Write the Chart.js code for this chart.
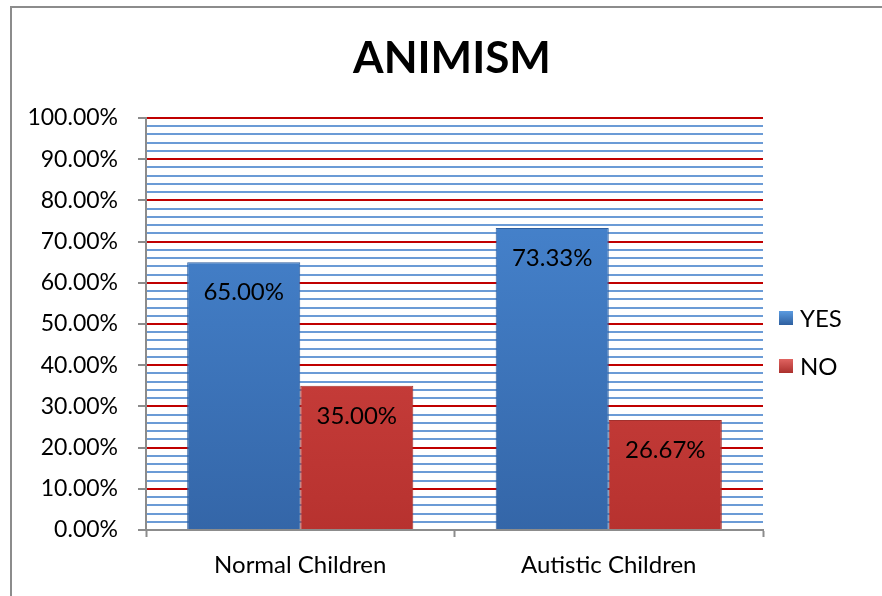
<!DOCTYPE html>
<html>
<head>
<meta charset="utf-8">
<script src="https://cdn.jsdelivr.net/npm/chart.js@4"></script>
<style>
    body { margin: 0; background: #fff; }
    #wrap { width: 882px; height: 596px; position: relative; }
</style>
</head>
<body>
<div id="wrap"><canvas id="chart" width="882" height="596"></canvas></div>
<script>
const categories = ['Normal Children', 'Autistic Children'];
const seriesNames = ['YES', 'NO'];
const yesValues = [65.00, 73.33];
const noValues = [35.00, 26.67];
const chartTitle = 'ANIMISM';

const FONT = 'Lato, "Noto Sans", sans-serif';

function barGradient(ctx, top, bottom) {
    const area = ctx.chart.chartArea;
    if (!area) return top;
    const g = ctx.chart.ctx.createLinearGradient(0, area.top, 0, area.bottom);
    g.addColorStop(0, top);
    g.addColorStop(1, bottom);
    return g;
}

// frame, title, legend and value labels
const decorations = {
    id: 'decorations',
    beforeDraw(chart) {
        const c = chart.ctx;
        c.save();
        c.strokeStyle = '#8c8c8c';
        c.lineWidth = 2;
        c.beginPath();
        c.moveTo(11, 600);
        c.lineTo(11, 7);
        c.lineTo(882, 7);
        c.stroke();
        c.restore();
    },
    afterDatasetsDraw(chart) {
        const c = chart.ctx;
        c.save();
        c.fillStyle = '#000';
        c.textAlign = 'center';
        c.textBaseline = 'middle';
        c.font = '24px ' + FONT;
        chart.data.datasets.forEach((ds, i) => {
            chart.getDatasetMeta(i).data.forEach((bar, j) => {
                c.fillText(ds.data[j].toFixed(2) + '%', bar.x, bar.y + 30);
            });
        });
        c.restore();
    },
    afterDraw(chart) {
        const c = chart.ctx;
        c.save();
        c.fillStyle = '#000';
        c.textAlign = 'center';
        c.textBaseline = 'middle';
        c.font = 'bold 44px ' + FONT;
        c.fillText(chartTitle, 452, 59);

        c.textAlign = 'left';
        c.font = '24px ' + FONT;
        const ys = [318, 366];
        chart.data.datasets.forEach((ds, i) => {
            const y = ys[i];
            const g = c.createLinearGradient(0, y - 7, 0, y + 7);
            g.addColorStop(0, ds.legendTop);
            g.addColorStop(1, ds.legendBottom);
            c.fillStyle = g;
            c.fillRect(779, y - 7, 14, 14);
            c.fillStyle = '#000';
            c.fillText(ds.label, 800, y + 1);
        });
        c.restore();
    }
};

new Chart(document.getElementById('chart').getContext('2d'), {
    type: 'bar',
    data: {
        labels: categories,
        datasets: [{
            label: seriesNames[0],
            data: yesValues,
            backgroundColor: ctx => barGradient(ctx, '#4a8ad6', '#3466a8'),
            borderColor: '#2f5f9e',
            borderWidth: 1,
            legendTop: '#5b9be0',
            legendBottom: '#2e5f9f'
        }, {
            label: seriesNames[1],
            data: noValues,
            backgroundColor: ctx => barGradient(ctx, '#dc4b48', '#b7322f'),
            borderColor: '#a3302d',
            borderWidth: 1,
            legendTop: '#e06461',
            legendBottom: '#ab302d'
        }]
    },
    options: {
        responsive: false,
        animation: false,
        layout: { padding: { left: 0, top: 118, right: 119, bottom: 0 } },
        plugins: {
            legend: { display: false },
            title: { display: false },
            tooltip: { enabled: false }
        },
        datasets: {
            bar: { categoryPercentage: 0.733, barPercentage: 1 }
        },
        scales: {
            x: {
                afterFit: scale => { scale.height = 66; },
                grid: {
                    offset: true,
                    drawOnChartArea: false,
                    tickLength: 7,
                    tickColor: '#8c8c8c',
                    tickWidth: 2
                },
                border: { color: '#8c8c8c', width: 2 },
                ticks: {
                    color: '#000',
                    font: { family: FONT, size: 24 },
                    padding: 14
                }
            },
            y: {
                min: 0,
                max: 100,
                afterFit: scale => { scale.width = 146; },
                grid: {
                    color: ctx => ctx.tick.value === 0 ? 'transparent'
                        : (ctx.tick.value % 10 === 0 ? '#c00000' : '#6b9bd6'),
                    lineWidth: 2,
                    tickLength: 8,
                    tickColor: ctx => ctx.tick.value % 10 === 0 ? '#8c8c8c' : 'transparent',
                    tickWidth: 2
                },
                border: { color: '#8c8c8c', width: 2 },
                ticks: {
                    stepSize: 2,
                    autoSkip: false,
                    maxTicksLimit: 60,
                    color: '#000',
                    padding: 20,
                    font: { family: FONT, size: 23 },
                    callback: v => v % 10 === 0 ? v.toFixed(2) + '%' : ''
                }
            }
        }
    },
    plugins: [decorations]
});
</script>
</body>
</html>
